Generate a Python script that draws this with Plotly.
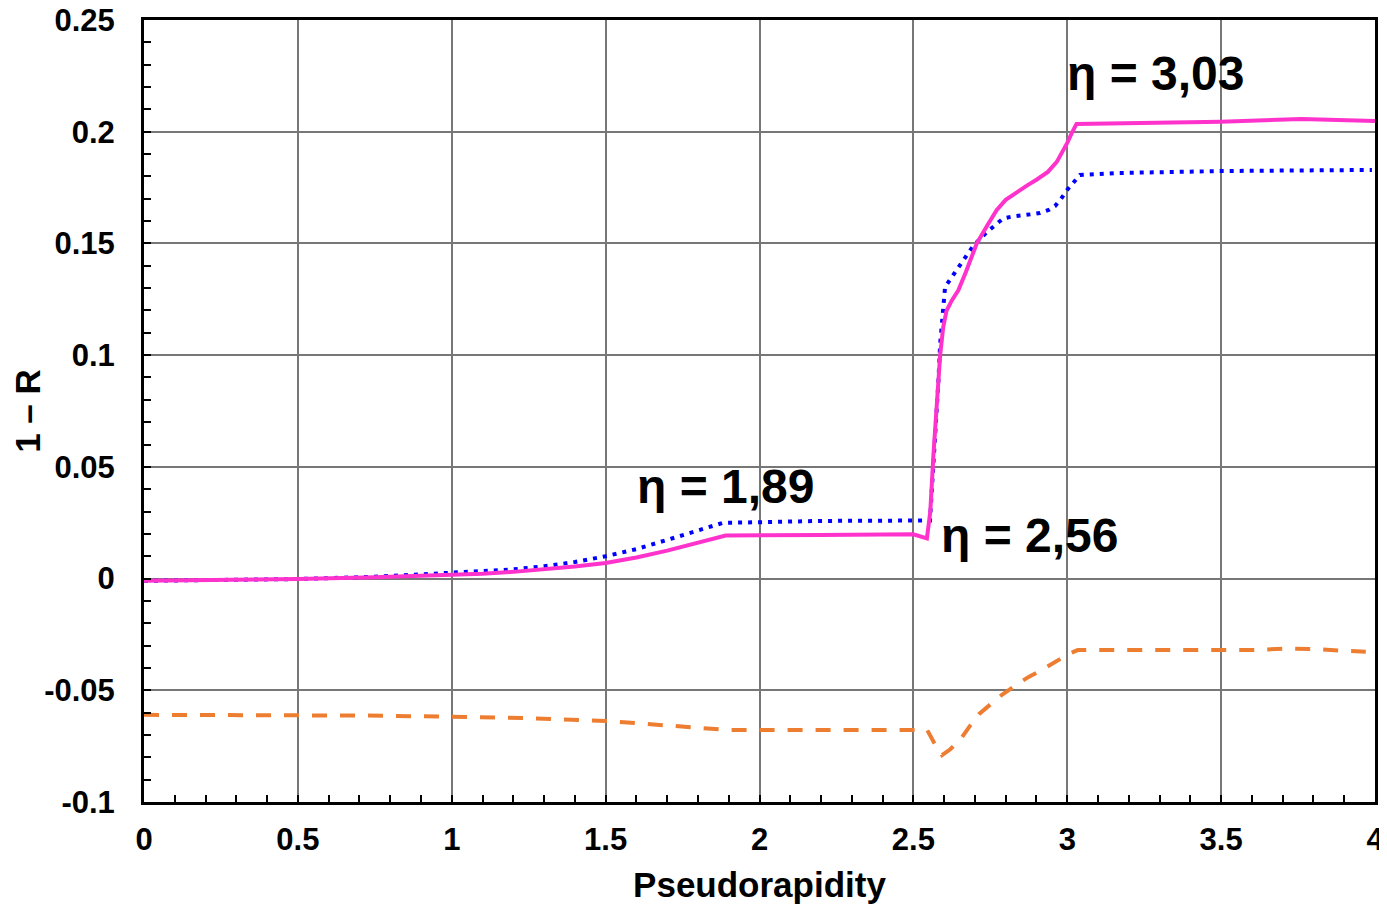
import plotly.graph_objects as go

# Solid (pink) series
x_pink = [0, 0.25, 0.5, 0.75, 1.0, 1.1, 1.2, 1.3, 1.4, 1.5, 1.6, 1.7, 1.8, 1.89, 2.2, 2.5,
          2.544, 2.555, 2.565, 2.576, 2.587, 2.597, 2.608, 2.625, 2.646, 2.67, 2.706, 2.74,
          2.771, 2.80, 2.836, 2.87, 2.9, 2.937, 2.966, 2.985, 3.0, 3.015, 3.03,
          3.5, 3.76, 4.0]
y_pink = [-0.001, -0.0007, -0.0002, 0.0006, 0.0016, 0.0022, 0.003, 0.0041, 0.0054, 0.007,
          0.0094, 0.0125, 0.016, 0.0193, 0.0195, 0.0198,
          0.018, 0.03, 0.055, 0.080, 0.100, 0.1126, 0.120, 0.1245, 0.129, 0.137, 0.150,
          0.158, 0.165, 0.1695, 0.173, 0.176, 0.1785, 0.182, 0.1865, 0.191, 0.195, 0.1995,
          0.2035, 0.2045, 0.2057, 0.2048]

# Dotted (blue) series
x_blue = [0, 0.25, 0.5, 0.75, 1.0, 1.1, 1.2, 1.3, 1.4, 1.5, 1.6, 1.7, 1.8, 1.88, 2.2,
          2.554, 2.558, 2.565, 2.570, 2.581, 2.587, 2.596, 2.603, 2.625, 2.657, 2.695,
          2.738, 2.765, 2.792, 2.82, 2.846, 2.88, 2.911, 2.94, 2.96, 2.98, 3.0, 3.02,
          3.041, 3.16, 3.5, 3.99]
y_blue = [-0.001, -0.0007, -0.0002, 0.0008, 0.0024, 0.0031, 0.0041, 0.0055, 0.0074, 0.0100,
          0.0132, 0.0173, 0.0215, 0.0249, 0.0258,
          0.026, 0.035, 0.050, 0.065, 0.0875, 0.105, 0.1216, 0.1305, 0.135, 0.1417, 0.149,
          0.155, 0.158, 0.1612, 0.1620, 0.1623, 0.163, 0.1636, 0.165, 0.1667, 0.170, 0.174,
          0.1775, 0.1806, 0.1815, 0.1824, 0.1829]

# Dashed (orange) series
x_orange = [0, 0.5, 0.71, 1.0, 1.25, 1.5, 1.7, 1.84, 1.9, 2.25, 2.545, 2.567, 2.593, 2.62,
            2.657, 2.685, 2.713, 2.753, 2.79, 2.837, 2.876, 2.921, 2.96, 3.006, 3.034,
            3.45, 3.61, 3.71, 3.81, 3.91, 3.97]
y_orange = [-0.061, -0.061, -0.0613, -0.0618, -0.0625, -0.0637, -0.0657, -0.0672, -0.0678,
            -0.0678, -0.0678, -0.0734, -0.079, -0.0764, -0.0712, -0.0657, -0.0607, -0.056,
            -0.0518, -0.0473, -0.0439, -0.0406, -0.0372, -0.0336, -0.032, -0.032, -0.032,
            -0.0313, -0.0316, -0.0324, -0.0327]

x_ticks = [0, 0.5, 1, 1.5, 2, 2.5, 3, 3.5, 4]
x_ticktext = ["0", "0.5", "1", "1.5", "2", "2.5", "3", "3.5", "4"]
y_ticks = [-0.1, -0.05, 0, 0.05, 0.1, 0.15, 0.2, 0.25]
y_ticktext = ["-0.1", "-0.05", "0", "0.05", "0.1", "0.15", "0.2", "0.25"]

labels = ["η = 1,89", "η = 2,56", "η = 3,03"]
label_x = [1.888, 2.877, 3.288]
label_y = [0.0414, 0.0195, 0.2262]

FONT = "Liberation Sans, Arial, sans-serif"

fig = go.Figure()
fig.add_trace(go.Scatter(x=x_orange, y=y_orange, mode="lines",
                         line=dict(color="#ED7D31", width=4, dash="15px,13px"),
                         showlegend=False))
fig.add_trace(go.Scatter(x=x_blue, y=y_blue, mode="lines",
                         line=dict(color="#0000FF", width=4, dash="4px,6px"),
                         showlegend=False))
fig.add_trace(go.Scatter(x=x_pink, y=y_pink, mode="lines",
                         line=dict(color="#FF33CC", width=4),
                         showlegend=False))

for t, xx, yy in zip(labels, label_x, label_y):
    fig.add_annotation(x=xx, y=yy, text=t, showarrow=False,
                       font=dict(family=FONT, size=48, color="black", weight="bold"),
                       xanchor="center", yanchor="middle")

fig.update_layout(
    width=1379, height=896,
    margin=dict(l=136, r=12, t=12, b=102, autoexpand=False),
    paper_bgcolor="white", plot_bgcolor="white",
    font=dict(family=FONT, color="black"),
)
fig.update_xaxes(
    range=[0, 4], tickvals=x_ticks, ticktext=x_ticktext,
    showgrid=True, gridcolor="#777777", gridwidth=2,
    showline=True, linecolor="black", linewidth=3, mirror=True,
    ticks="inside", ticklen=7, tickwidth=2, tickcolor="black",
    minor=dict(dtick=0.1, ticks="inside", ticklen=7, tickwidth=2, tickcolor="black", showgrid=False),
    tickfont=dict(family=FONT, size=31, weight="bold"),
    ticklabelstandoff=8, ticklabeloverflow="allow",
    zeroline=False, automargin=False,
    title=dict(text="Pseudorapidity", font=dict(family=FONT, size=35, weight="bold"), standoff=20),
)
fig.update_yaxes(
    range=[-0.1, 0.25], tickvals=y_ticks, ticktext=y_ticktext,
    showgrid=True, gridcolor="#777777", gridwidth=2,
    showline=True, linecolor="black", linewidth=3, mirror=True,
    ticks="inside", ticklen=7, tickwidth=2, tickcolor="black",
    minor=dict(dtick=0.01, ticks="inside", ticklen=7, tickwidth=2, tickcolor="black", showgrid=False),
    tickfont=dict(family=FONT, size=31, weight="bold"),
    ticklabelstandoff=20, ticklabeloverflow="allow",
    zeroline=False, automargin=False,
    title=dict(text="1 – R", font=dict(family=FONT, size=35, weight="bold"), standoff=5),
)

fig.write_html("out.html")
